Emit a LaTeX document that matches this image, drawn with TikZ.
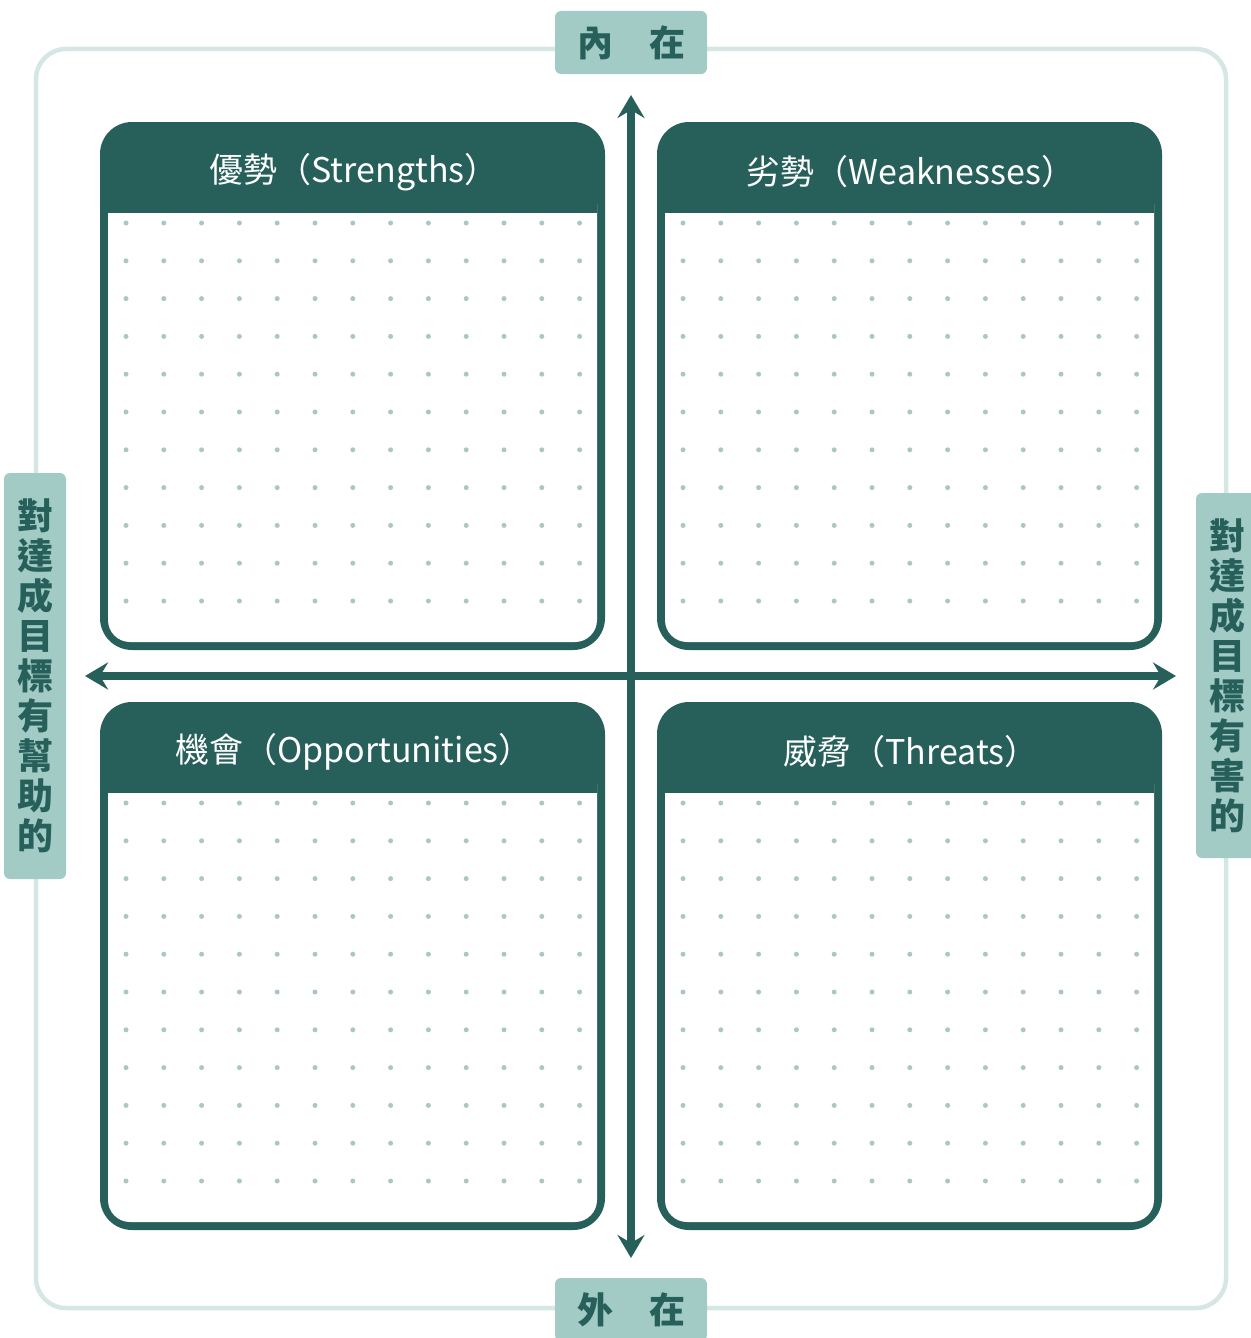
\documentclass[tikz,border=0pt]{standalone}
\usepackage{fontspec}
\setmainfont{Noto Sans CJK TC}
\usetikzlibrary{arrows.meta}
\definecolor{swotdark}{HTML}{27605A}
\definecolor{swotlabel}{HTML}{A2CBC6}
\definecolor{swotframe}{HTML}{D4E7E4}
\definecolor{swotdot}{HTML}{AAC7C3}
\tikzset{
  axislabel/.style={fill=swotlabel,rounded corners=6pt,inner sep=0pt,text=swotdark,align=center,
    font=\fontsize{36}{40}\selectfont\bfseries},
  boxtitle/.style={text=white,inner sep=0pt,font=\fontsize{34}{40}\selectfont},
  axisarrow/.style={swotdark,line width=8pt,
    {Stealth[length=23pt,width=27pt,inset=8pt]}-{Stealth[length=23pt,width=27pt,inset=8pt]}}
}

\begin{document}
\begin{tikzpicture}[x=1pt,y=-1pt]
    \useasboundingbox (0,0) rectangle (1250,1338);
    % outer frame
    \draw[swotframe,line width=4.5pt,rounded corners=30pt] (36,49) rectangle (1226,1308);

    % the four boxes
    \foreach \bx/\by/\nm/\ttl in {100/122/strengths/{優勢（Strengths）},
        657/122/weaknesses/{劣勢（Weaknesses）},
        100/702/opportunities/{機會（Opportunities）},
        657/702/threats/{威脅（Threats）}}{
      \fill[swotdark,rounded corners=32pt] (\bx,\by) rectangle ++(505,528);
      \fill[white,rounded corners=22pt] (\bx+8,\by+60) rectangle ++(489,460);
      \fill[swotdark] (\bx+8,\by+60) rectangle ++(489,31);
      \node[boxtitle] (\nm) at (\bx+254,\by+50) {\ttl};
      \foreach \i in {0,...,12}
        \foreach \j in {0,...,10}
          \fill[swotdot] (\bx+26+37.8*\i,\by+101+37.8*\j) circle (2.5);
    }

    % axes
    \coordinate (north) at (631,95);
    \coordinate (south) at (631,1258);
    \coordinate (west) at (85,676);
    \coordinate (east) at (1176,676);
    \draw[axisarrow] (north) -- (south);
    \draw[axisarrow] (west) -- (east);

    % axis labels
    \node[axislabel,minimum width=152pt,minimum height=63pt] (internal) at (631,42.5) {內　在};
    \node[axislabel,minimum width=152pt,minimum height=63pt] (external) at (631,1309.5) {外　在};
    \node[axislabel,minimum width=62pt,minimum height=406pt] (helpful) at (35,676)
      {對\\達\\成\\目\\標\\有\\幫\\助\\的};
    \node[axislabel,minimum width=62pt,minimum height=365pt] (harmful) at (1227,675.5)
      {對\\達\\成\\目\\標\\有\\害\\的};
  \end{tikzpicture}
\end{document}
